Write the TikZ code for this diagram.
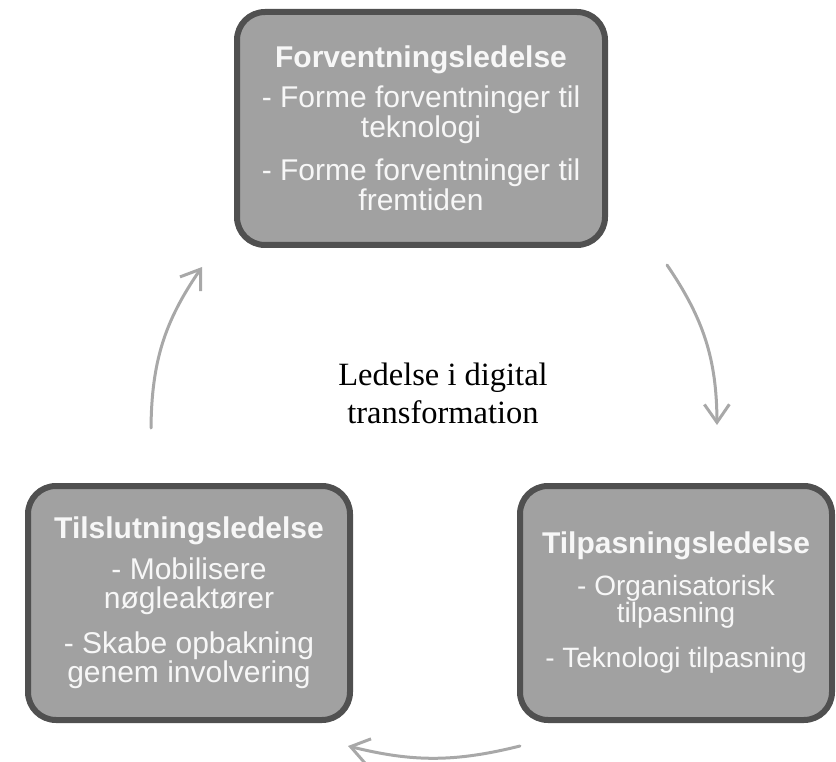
\documentclass[tikz,border=0pt]{standalone}
\usepackage{fontspec}
\setmainfont{Liberation Serif}
\newfontfamily\boxfont{Liberation Sans}
\usetikzlibrary{arrows.meta}
\definecolor{boxfill}{RGB}{161,161,161}
\definecolor{boxline}{RGB}{80,80,80}
\definecolor{boxtext}{RGB}{247,247,247}
\definecolor{arrowgray}{RGB}{168,168,168}
\tikzset{
  phase/.style={draw=boxline, line width=6pt, fill=boxfill, rounded corners=28pt,
    text=boxtext, align=center, inner sep=0pt,
    font=\boxfont\fontsize{30}{30}\selectfont},
  cyclearrow/.style={draw=arrowgray, line width=3pt, line cap=round,
    -{Straight Barb[length=18pt,width=25pt]}},
  centertext/.style={align=center, inner sep=0pt, font=\fontsize{32.5}{38}\selectfont}
}
\begin{document}
\begin{tikzpicture}[x=1pt,y=1pt]
\useasboundingbox (0,0) rectangle (836,-762);

\node[phase, minimum width=368pt, minimum height=233pt] (forv) at (421,-128.5)
  {\textbf{Forventningsledelse}\\[10pt]
   - Forme forventninger til\\
   teknologi\\[13pt]
   - Forme forventninger til\\
   fremtiden};

\node[phase, minimum width=322pt, minimum height=234pt] (tils) at (189,-603)
  {\textbf{Tilslutningsledelse}\\[11pt]
   - Mobilisere\\[-1pt]
   nøgleaktører\\[15pt]
   - Skabe opbakning\\[-1pt]
   genem involvering};

\node[phase, minimum width=312pt, minimum height=234pt] (tilp) at (676,-603)
  {\textbf{Tilpasningsledelse}\\[12pt]
   {\fontsize{28}{28}\selectfont - Organisatorisk}\\[-3pt]
   {\fontsize{28}{28}\selectfont tilpasning}\\[15pt]
   {\fontsize{28}{28}\selectfont - Teknologi tilpasning}};

\node[centertext] (center) at (443,-393) {Ledelse i digital\\transformation};

\coordinate (a1s) at (151,-428);
\coordinate (a1e) at (202,-267);
\coordinate (a2s) at (667,-265);
\coordinate (a2e) at (717,-425);
\coordinate (a3s) at (520,-746);
\coordinate (a3e) at (348,-746);

\draw[cyclearrow] (a1s) to[bend left=17] (a1e);
\draw[cyclearrow] (a2s) to[bend left=17] (a2e);
\draw[cyclearrow] (a3s) to[bend left=14] (a3e);
\end{tikzpicture}
\end{document}
